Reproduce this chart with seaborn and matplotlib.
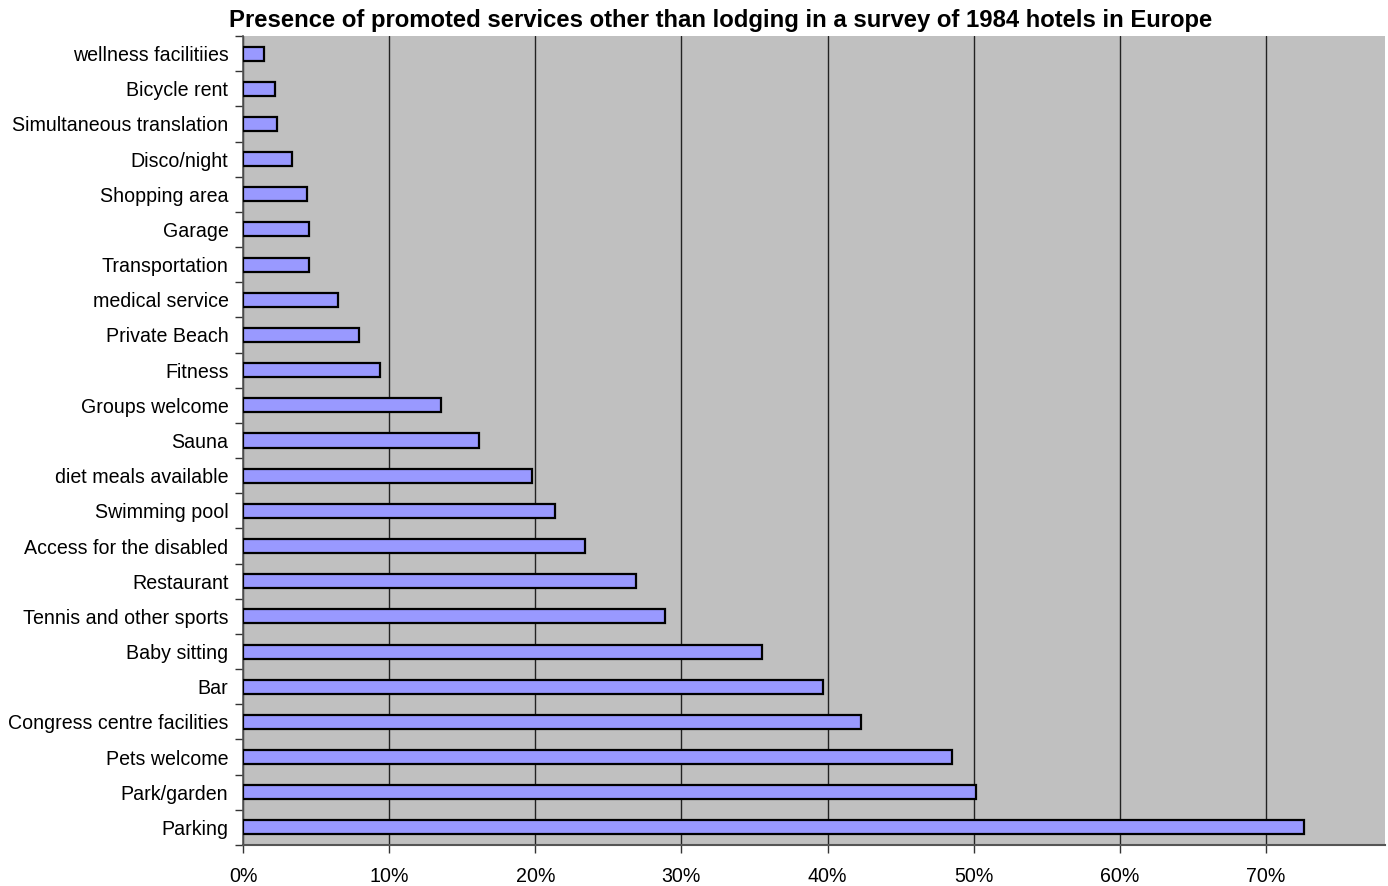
import matplotlib
matplotlib.use("Agg")
import matplotlib.pyplot as plt
import seaborn as sns
import pandas as pd
from matplotlib.ticker import MultipleLocator, PercentFormatter, FixedLocator

services = [
    "wellness facilitiies", "Bicycle rent", "Simultaneous translation", "Disco/night",
    "Shopping area", "Garage", "Transportation", "medical service", "Private Beach",
    "Fitness", "Groups welcome", "Sauna", "diet meals available", "Swimming pool",
    "Access for the disabled", "Restaurant", "Tennis and other sports", "Baby sitting",
    "Bar", "Congress centre facilities", "Pets welcome", "Park/garden", "Parking",
]
shares = [
    0.0141, 0.0216, 0.0230, 0.0335,
    0.0440, 0.0449, 0.0449, 0.0649, 0.0791,
    0.0939, 0.1358, 0.1614, 0.1976, 0.2138,
    0.2337, 0.2690, 0.2886, 0.3554,
    0.3968, 0.4228, 0.4850, 0.5014, 0.7258,
]
title = "Presence of promoted services other than lodging in a survey of 1984 hotels in Europe"

df = pd.DataFrame({"service": services, "share": shares})

sns.set_theme(style="white")
plt.rcParams["font.family"] = ["Liberation Sans", "DejaVu Sans"]
plt.rcParams["text.color"] = "black"
plt.rcParams["xtick.color"] = "black"
plt.rcParams["ytick.color"] = "black"

fig = plt.figure(figsize=(13.88, 8.86), dpi=100)
ax = fig.add_axes([243 / 1388, 41 / 886, (1385 - 243) / 1388, (845 - 36) / 886])
ax.set_facecolor("#C0C0C0")

sns.barplot(data=df, x="share", y="service", order=services, orient="h",
            color="#9999FF", saturation=1, width=0.4,
            edgecolor="black", linewidth=1.6, ax=ax, zorder=3)

ax.set_xlim(0, 0.7815)
ax.set_ylim(len(services) - 0.5, -0.5)
ax.xaxis.set_major_locator(MultipleLocator(0.1))
ax.xaxis.set_major_formatter(PercentFormatter(xmax=1, decimals=0))
ax.grid(axis="x", color="#222222", linewidth=1.0, zorder=1)
ax.grid(axis="y", visible=False)
ax.set_axisbelow(True)

# category labels centred between tick marks placed on category boundaries
ax.yaxis.set_minor_locator(FixedLocator([i - 0.5 for i in range(len(services) + 1)]))
ax.tick_params(axis="y", which="major", length=0, pad=10.5, labelsize=14.1)
ax.tick_params(axis="y", which="minor", length=6, width=1, color="#333333", left=True)
ax.tick_params(axis="x", which="major", length=6, width=1, color="#333333",
               bottom=True, pad=10, labelsize=14.1)

ax.set_xlabel("")
ax.set_ylabel("")
for side in ["top", "right"]:
    ax.spines[side].set_visible(False)
ax.spines["left"].set_color("#555555")
ax.spines["left"].set_linewidth(1.2)
ax.spines["bottom"].set_color("#555555")
ax.spines["bottom"].set_linewidth(1.5)

fig.text(721 / 1388, 1 - 21 / 886, title, ha="center", va="center",
         fontsize=17.2, fontweight="bold")

fig.savefig("out.png", dpi=100, facecolor="white")
